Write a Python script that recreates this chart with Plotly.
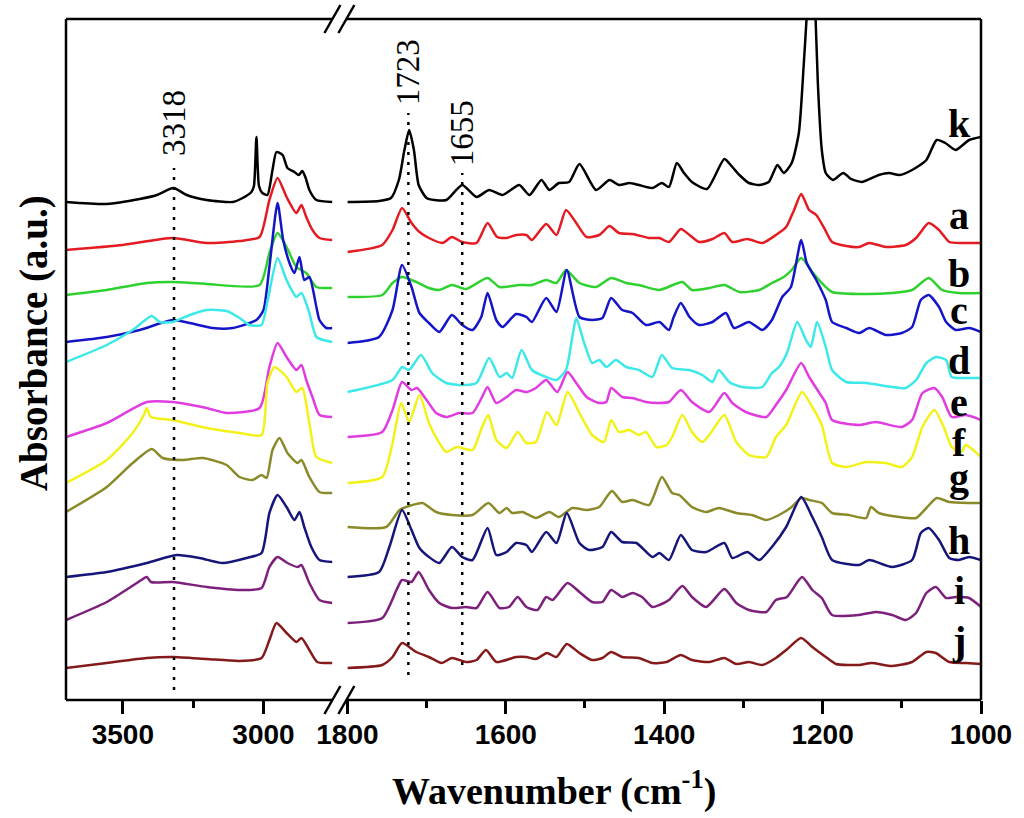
import plotly.graph_objects as go

# ---------------- data (wavenumber cm-1, absorbance a.u., offset stacked) ----------------
labels = ["k", "a", "b", "c", "d", "e", "f", "g", "h", "i", "j"]
colors = ["#000000", "#e31b23", "#2fd12f", "#1515c8", "#3de8e8", "#e03ce0",
          "#f2f21a", "#8a8a2a", "#16167a", "#7c207c", "#851a1a"]

# high-wavenumber region (3700-2755)
k_high = [(3702,4.98),(3557,4.96),(3440,5.01),(3379,5.05),(3320,5.12),(3273,5.05),(3202,5.00),(3110,4.98),
          (3074,5.02),(3043,5.08),(3034,5.14),(3025,5.63),(3016,5.14),(3004,5.07),(2986,5.05),(2968,5.30),
          (2954,5.48),(2932,5.45),(2915,5.32),(2890,5.28),(2875,5.25),(2862,5.29),(2850,5.22),(2837,5.10),
          (2812,5.00),(2755,4.98)]
a_high = [(3702,4.50),(3500,4.55),(3323,4.62),(3202,4.57),(3085,4.59),(3014,4.63),(2979,5.00),(2950,5.22),
          (2918,5.03),(2883,4.87),(2865,4.95),(2848,4.83),(2826,4.70),(2801,4.62),(2755,4.60)]
b_high = [(3702,4.05),(3557,4.10),(3415,4.17),(3323,4.18),(3202,4.16),(3014,4.15),(2979,4.47),(2950,4.67),
          (2918,4.53),(2883,4.33),(2848,4.27),(2812,4.13),(2755,4.12)]
c_high = [(3702,3.58),(3557,3.63),(3440,3.70),(3323,3.80),(3262,3.77),(3181,3.72),(3110,3.72),(3025,3.80),
          (3000,3.90),(2979,4.33),(2950,4.97),(2930,4.60),(2905,4.35),(2890,4.27),(2872,4.43),(2855,4.20),
          (2837,4.23),(2812,3.93),(2801,3.80),(2777,3.72),(2755,3.72)]
d_high = [(3702,3.38),(3557,3.55),(3465,3.70),(3397,3.84),(3369,3.78),(3323,3.78),(3262,3.85),(3202,3.90),
          (3131,3.89),(3085,3.82),(3050,3.75),(3007,3.75),(2985,4.00),(2950,4.42),(2918,4.20),(2883,4.03),
          (2865,4.07),(2837,3.87),(2812,3.63),(2755,3.58)]
e_high = [(3702,2.63),(3557,2.77),(3415,2.98),(3323,2.98),(3202,2.92),(3131,2.87),(3014,2.92),(2979,3.33),
          (2950,3.57),(2918,3.43),(2883,3.30),(2865,3.35),(2848,3.20),(2826,3.03),(2801,2.85),(2755,2.83)]
f_high = [(3702,2.17),(3557,2.40),(3465,2.67),(3425,2.85),(3415,2.92),(3400,2.83),(3323,2.80),(3202,2.72),
          (3085,2.67),(3007,2.65),(2986,3.17),(2961,3.33),(2918,3.23),(2883,3.08),(2862,3.12),(2837,2.77),
          (2812,2.43),(2755,2.37)]
g_high = [(3702,1.88),(3557,2.13),(3465,2.37),(3397,2.51),(3358,2.42),(3287,2.40),(3216,2.42),(3131,2.35),
          (3085,2.23),(3039,2.20),(3007,2.25),(2989,2.22),(2968,2.50),(2943,2.62),(2915,2.47),(2879,2.37),
          (2865,2.40),(2837,2.23),(2801,2.08),(2755,2.07)]
h_high = [(3702,1.23),(3557,1.28),(3415,1.37),(3309,1.45),(3227,1.42),(3145,1.37),(3060,1.42),(3007,1.47),
          (2979,1.87),(2950,2.05),(2918,1.93),(2890,1.80),(2872,1.88),(2855,1.73),(2830,1.53),(2801,1.40),
          (2755,1.38)]
i_high = [(3702,0.80),(3557,0.98),(3450,1.17),(3415,1.23),(3400,1.18),(3323,1.18),(3202,1.13),(3085,1.10),
          (3007,1.12),(2979,1.33),(2950,1.43),(2915,1.37),(2879,1.33),(2865,1.35),(2837,1.17),(2801,1.00),
          (2755,0.97)]
j_high = [(3702,0.32),(3557,0.37),(3415,0.42),(3323,0.43),(3202,0.41),(3085,0.39),(3007,0.42),(2979,0.60),
          (2954,0.77),(2918,0.67),(2883,0.58),(2865,0.62),(2837,0.50),(2809,0.38),(2755,0.37)]

# fingerprint region (1800-1000)
k_low = [(1800,4.98),(1760,4.99),(1745,5.02),(1735,5.20),(1728,5.50),(1722,5.70),(1716,5.50),(1710,5.15),
         (1700,5.02),(1690,5.00),(1675,5.00),(1655,5.15),(1637,5.03),(1621,5.10),(1604,5.05),(1583,5.15),
         (1570,5.05),(1555,5.20),(1545,5.10),(1533,5.17),(1520,5.18),(1507,5.36),(1486,5.10),(1469,5.20),
         (1457,5.15),(1444,5.17),(1432,5.15),(1415,5.12),(1403,5.17),(1394,5.13),(1384,5.37),(1375,5.27),
         (1365,5.18),(1346,5.11),(1324,5.41),(1314,5.33),(1305,5.25),(1293,5.17),(1280,5.15),(1268,5.18),
         (1257,5.35),(1249,5.27),(1239,5.37),(1230,5.67),(1224,6.33),(1220,6.85),(1215,7.70),(1209,6.85),
         (1206,6.17),(1201,5.50),(1196,5.27),(1187,5.20),(1174,5.27),(1164,5.21),(1150,5.18),(1129,5.25),
         (1116,5.27),(1103,5.25),(1087,5.30),(1069,5.40),(1056,5.60),(1045,5.57),(1032,5.50),(1015,5.60),
         (1000,5.63)]
a_low = [(1800,4.48),(1756,4.55),(1743,4.70),(1731,4.92),(1719,4.77),(1709,4.68),(1697,4.62),(1680,4.57),
         (1668,4.63),(1655,4.58),(1637,4.57),(1623,4.77),(1611,4.63),(1599,4.62),(1587,4.65),(1574,4.65),
         (1567,4.60),(1549,4.76),(1536,4.65),(1524,4.90),(1511,4.77),(1498,4.63),(1482,4.65),(1469,4.74),
         (1457,4.67),(1440,4.66),(1419,4.62),(1406,4.62),(1394,4.58),(1379,4.71),(1368,4.65),(1356,4.58),
         (1339,4.61),(1324,4.67),(1314,4.58),(1295,4.61),(1276,4.57),(1259,4.65),(1246,4.73),(1236,4.90),
         (1227,5.06),(1217,4.90),(1208,4.85),(1198,4.72),(1188,4.58),(1170,4.54),(1154,4.53),(1141,4.57),
         (1120,4.53),(1095,4.55),(1082,4.62),(1066,4.77),(1053,4.70),(1040,4.58),(1024,4.57),(1000,4.57)]
b_low = [(1800,4.03),(1756,4.05),(1743,4.17),(1731,4.23),(1713,4.18),(1697,4.12),(1684,4.10),(1668,4.15),
         (1650,4.11),(1623,4.22),(1608,4.13),(1583,4.15),(1567,4.15),(1549,4.20),(1536,4.17),(1524,4.30),
         (1507,4.17),(1486,4.13),(1467,4.22),(1448,4.17),(1432,4.15),(1406,4.10),(1377,4.18),(1365,4.10),
         (1343,4.12),(1324,4.15),(1305,4.08),(1280,4.10),(1264,4.17),(1249,4.23),(1239,4.30),(1227,4.42),
         (1213,4.28),(1201,4.17),(1188,4.08),(1154,4.06),(1112,4.07),(1087,4.10),(1066,4.22),(1049,4.10),
         (1028,4.07),(1000,4.07)]
c_low = [(1800,3.57),(1760,3.63),(1743,3.90),(1731,4.35),(1719,4.13),(1709,3.87),(1697,3.77),(1684,3.68),
         (1668,3.85),(1655,3.75),(1642,3.70),(1631,3.83),(1623,4.07),(1612,3.80),(1604,3.73),(1587,3.86),
         (1574,3.83),(1567,3.78),(1549,4.02),(1536,3.88),(1523,4.30),(1507,3.83),(1491,3.80),(1478,3.82),
         (1467,4.02),(1453,3.90),(1440,3.87),(1423,3.75),(1406,3.78),(1394,3.70),(1388,3.83),(1379,3.97),
         (1368,3.83),(1356,3.75),(1339,3.78),(1322,3.87),(1312,3.72),(1293,3.78),(1276,3.70),(1264,3.80),
         (1251,4.03),(1240,4.13),(1227,4.60),(1220,4.37),(1208,4.20),(1196,4.00),(1188,3.78),(1170,3.72),
         (1154,3.67),(1141,3.72),(1120,3.65),(1100,3.67),(1087,3.73),(1076,4.00),(1066,4.05),(1053,3.93),
         (1044,3.78),(1032,3.70),(1015,3.72),(1000,3.68)]
d_low = [(1800,3.08),(1743,3.20),(1731,3.33),(1722,3.30),(1707,3.45),(1693,3.27),(1675,3.17),(1655,3.15),
         (1637,3.17),(1621,3.42),(1608,3.23),(1599,3.27),(1592,3.22),(1580,3.50),(1567,3.30),(1549,3.23),
         (1536,3.20),(1524,3.30),(1516,3.63),(1511,3.82),(1501,3.57),(1491,3.37),(1482,3.40),(1473,3.33),
         (1461,3.40),(1448,3.33),(1432,3.30),(1415,3.23),(1403,3.45),(1390,3.32),(1368,3.30),(1352,3.25),
         (1339,3.18),(1331,3.30),(1318,3.18),(1302,3.13),(1276,3.13),(1264,3.27),(1255,3.33),(1245,3.47),
         (1232,3.78),(1221,3.60),(1215,3.53),(1207,3.78),(1196,3.53),(1188,3.30),(1170,3.18),(1145,3.17),
         (1112,3.13),(1095,3.12),(1082,3.20),(1069,3.37),(1057,3.43),(1044,3.40),(1037,3.23),(1019,3.22),
         (1000,3.22)]
e_low = [(1800,2.63),(1756,2.68),(1743,2.90),(1731,3.18),(1719,3.10),(1712,3.12),(1700,3.00),(1688,2.87),
         (1675,2.83),(1659,2.87),(1642,2.87),(1630,3.03),(1623,3.13),(1612,2.97),(1599,3.03),(1587,3.10),
         (1574,3.08),(1562,3.12),(1549,3.20),(1535,3.08),(1522,3.28),(1511,3.17),(1498,3.03),(1482,2.97),
         (1473,2.98),(1467,3.12),(1453,3.03),(1440,3.02),(1423,2.98),(1406,2.97),(1394,2.98),(1379,3.10),
         (1365,2.98),(1343,2.88),(1324,3.07),(1314,2.97),(1297,2.88),(1271,2.83),(1259,2.95),(1246,3.10),
         (1227,3.37),(1217,3.23),(1204,3.07),(1196,2.97),(1188,2.80),(1154,2.75),(1133,2.78),(1100,2.73),
         (1087,2.80),(1074,3.07),(1059,3.12),(1049,3.03),(1037,2.83),(1019,2.85),(1000,2.80)]
f_low = [(1800,2.17),(1756,2.23),(1743,2.57),(1732,2.97),(1722,2.78),(1709,3.05),(1697,2.77),(1684,2.57),
         (1675,2.48),(1662,2.53),(1642,2.50),(1630,2.73),(1622,2.85),(1612,2.60),(1599,2.52),(1585,2.68),
         (1574,2.57),(1562,2.58),(1548,2.88),(1536,2.75),(1522,3.08),(1507,2.87),(1491,2.65),(1476,2.58),
         (1467,2.80),(1457,2.68),(1444,2.70),(1432,2.65),(1423,2.68),(1410,2.53),(1397,2.55),(1390,2.63),
         (1377,2.85),(1365,2.68),(1352,2.58),(1343,2.65),(1324,2.85),(1309,2.58),(1293,2.45),(1271,2.43),
         (1259,2.63),(1246,2.75),(1226,3.08),(1213,2.93),(1201,2.75),(1188,2.37),(1170,2.33),(1145,2.38),
         (1120,2.37),(1100,2.33),(1087,2.43),(1074,2.73),(1059,2.90),(1047,2.73),(1037,2.53),(1025,2.48),
         (1019,2.55),(1010,2.50),(1000,2.43)]
g_low = [(1800,1.73),(1751,1.73),(1734,1.90),(1718,1.95),(1705,1.97),(1688,1.88),(1668,1.85),(1642,1.85),
         (1622,1.97),(1608,1.87),(1599,1.92),(1592,1.87),(1579,1.88),(1562,1.82),(1545,1.88),(1533,1.83),
         (1516,1.92),(1498,1.90),(1482,1.93),(1466,2.09),(1453,1.98),(1440,2.00),(1419,1.95),(1403,2.23),
         (1390,2.07),(1381,2.05),(1365,1.93),(1347,1.88),(1331,1.92),(1309,1.87),(1289,1.85),(1271,1.80),
         (1255,1.85),(1239,1.93),(1227,2.02),(1217,2.00),(1201,1.97),(1188,1.87),(1167,1.85),(1145,1.82),
         (1139,1.93),(1129,1.87),(1103,1.83),(1082,1.82),(1069,1.92),(1056,2.02),(1040,1.98),(1015,1.97),
         (1000,1.97)]
h_low = [(1800,1.23),(1760,1.28),(1747,1.53),(1731,1.90),(1719,1.70),(1709,1.52),(1697,1.43),(1684,1.37),
         (1668,1.53),(1655,1.43),(1642,1.40),(1623,1.72),(1612,1.45),(1599,1.48),(1587,1.57),(1574,1.55),
         (1567,1.48),(1549,1.68),(1536,1.57),(1523,1.87),(1507,1.57),(1495,1.50),(1478,1.53),(1467,1.68),
         (1453,1.58),(1435,1.57),(1415,1.43),(1406,1.47),(1394,1.40),(1379,1.65),(1365,1.50),(1347,1.48),
         (1324,1.57),(1314,1.42),(1295,1.48),(1280,1.40),(1264,1.53),(1246,1.73),(1227,2.03),(1213,1.83),
         (1201,1.63),(1188,1.40),(1154,1.35),(1141,1.40),(1112,1.33),(1087,1.40),(1076,1.67),(1066,1.72),
         (1053,1.60),(1040,1.42),(1028,1.40),(1015,1.43),(1000,1.40)]
i_low = [(1800,0.77),(1756,0.82),(1738,1.10),(1731,1.20),(1719,1.18),(1710,1.28),(1697,1.10),(1684,0.97),
         (1668,0.92),(1650,0.93),(1637,0.92),(1623,1.08),(1608,0.92),(1596,0.93),(1585,1.03),(1574,0.93),
         (1560,0.90),(1549,1.03),(1541,1.00),(1522,1.17),(1507,1.08),(1491,0.98),(1478,0.98),(1467,1.10),
         (1453,1.03),(1440,1.07),(1428,1.03),(1415,0.93),(1406,0.95),(1394,1.00),(1377,1.14),(1365,1.03),
         (1347,0.93),(1324,1.11),(1309,0.97),(1293,0.90),(1271,0.88),(1259,1.00),(1245,1.03),(1226,1.23),
         (1213,1.10),(1201,1.02),(1188,0.85),(1154,0.85),(1133,0.88),(1112,0.85),(1095,0.80),(1082,0.87),
         (1069,1.07),(1057,1.13),(1044,1.02),(1032,1.03),(1015,1.02),(1000,0.93)]
j_low = [(1800,0.32),(1756,0.35),(1743,0.43),(1731,0.57),(1713,0.48),(1697,0.43),(1681,0.37),(1668,0.42),
         (1650,0.38),(1637,0.40),(1625,0.50),(1612,0.38),(1587,0.43),(1574,0.43),(1562,0.41),(1548,0.47),
         (1536,0.43),(1523,0.56),(1507,0.47),(1491,0.40),(1478,0.42),(1467,0.48),(1453,0.43),(1432,0.42),
         (1415,0.37),(1397,0.38),(1379,0.45),(1365,0.40),(1343,0.38),(1324,0.42),(1309,0.36),(1293,0.38),
         (1276,0.35),(1259,0.42),(1246,0.50),(1227,0.62),(1213,0.53),(1196,0.43),(1183,0.36),(1154,0.35),
         (1138,0.37),(1112,0.34),(1087,0.38),(1069,0.48),(1057,0.47),(1040,0.38),(1019,0.37),(1000,0.36)]

high_sets = [k_high, a_high, b_high, c_high, d_high, e_high, f_high, g_high, h_high, i_high, j_high]
low_sets = [k_low, a_low, b_low, c_low, d_low, e_low, f_low, g_low, h_low, i_low, j_low]

# peak markers
peak_positions = [3318, 1723, 1655]
peak_labels = ["3318", "1723", "1655"]

# axis ticks
high_ticks = [3500, 3000]
high_minor = [3250]
low_ticks = [1800, 1600, 1400, 1200, 1000]
low_minor = [1700, 1500, 1300, 1100]

# curve label heights (a.u.)
label_y = [5.77, 4.85, 4.27, 3.90, 3.40, 2.98, 2.58, 2.23, 1.60, 1.10, 0.60]

# ---------------- figure ----------------
W, H = 1024, 818
PL, PR, PT, PB = 66, 983, 19, 700          # plot area in pixels
L, T, R, B = PL, PT, W - PR, H - PB
PW, PH = PR - PL, PB - PT


def fx(px):
    return (px - PL) / PW


def fy(py):
    return (PB - py) / PH


fig = go.Figure()
for name, col, hi, lo in zip(labels, colors, high_sets, low_sets):
    fig.add_trace(go.Scatter(x=[p[0] for p in hi], y=[p[1] for p in hi], xaxis="x", yaxis="y",
                             mode="lines", name=name, showlegend=False,
                             line=dict(color=col, width=2.5, shape="spline", smoothing=0.6)))
    fig.add_trace(go.Scatter(x=[p[0] for p in lo], y=[p[1] for p in lo], xaxis="x2", yaxis="y",
                             mode="lines", name=name, showlegend=False,
                             line=dict(color=col, width=2.5, shape="spline", smoothing=0.6)))

tickfont = dict(family="Liberation Sans, Arial", size=28, color="black", weight="bold")
common = dict(ticks="outside", ticklen=13, tickwidth=2.5, tickcolor="black", showgrid=False,
              zeroline=False, showline=False, tickfont=tickfont, anchor="y", ticklabelstandoff=-4)

fig.update_layout(
    width=W, height=H, margin=dict(l=L, r=R, t=T, b=B),
    plot_bgcolor="white", paper_bgcolor="white",
    xaxis=dict(domain=[0, fx(333)], range=[3702, 2755], tickvals=high_ticks,
               minor=dict(tickvals=high_minor, ticks="outside", ticklen=7, tickwidth=2.5, tickcolor="black"),
               **common),
    xaxis2=dict(domain=[fx(348), 1], range=[1800, 1000], tickvals=low_ticks,
                minor=dict(tickvals=low_minor, ticks="outside", ticklen=7, tickwidth=2.5, tickcolor="black"),
                **common),
    yaxis=dict(domain=[0, 1], range=[0, (700 - 19) / 100], visible=False, anchor="x"),
)

shapes = []
blk = dict(color="black", width=2.5)
# frame
shapes.append(dict(type="line", xref="paper", yref="paper", x0=0, x1=0, y0=0, y1=1, line=blk))
shapes.append(dict(type="line", xref="paper", yref="paper", x0=1, x1=1, y0=0, y1=1, line=blk))
for yy in (0, 1):
    shapes.append(dict(type="line", xref="paper", yref="paper", x0=0, x1=fx(333), y0=yy, y1=yy, line=blk))
    shapes.append(dict(type="line", xref="paper", yref="paper", x0=fx(347), x1=1, y0=yy, y1=yy, line=blk))
# axis break marks
for pyc in (700, 19):
    for cx in (333, 347):
        shapes.append(dict(type="line", xref="paper", yref="paper",
                           x0=fx(cx - 8), y0=fy(pyc + 14), x1=fx(cx + 8), y1=fy(pyc - 14), line=blk))
# dotted peak lines
dot = dict(color="black", width=2.5, dash="3px,7px")
shapes.append(dict(type="line", xref="x", yref="y", x0=peak_positions[0], x1=peak_positions[0],
                   y0=0.10, y1=5.32, line=dot))
shapes.append(dict(type="line", xref="x2", yref="y", x0=peak_positions[1], x1=peak_positions[1],
                   y0=0.25, y1=5.87, line=dot))
shapes.append(dict(type="line", xref="x2", yref="y", x0=peak_positions[2], x1=peak_positions[2],
                   y0=0.35, y1=5.27, line=dot))

annotations = []
serif = "Liberation Serif, Times New Roman"
pk_y = [5.77, 6.28, 5.67]
pk_ref = ["x", "x2", "x2"]
for pos, txt, yy, ref in zip(peak_positions, peak_labels, pk_y, pk_ref):
    annotations.append(dict(x=pos, y=yy, xref=ref, yref="y", text=txt, showarrow=False, textangle=-90,
                            font=dict(family=serif, size=33, color="black"),
                            xanchor="center", yanchor="middle"))
for name, yy in zip(labels, label_y):
    annotations.append(dict(x=fx(961), y=yy, xref="paper", yref="y", text=name, showarrow=False,
                            font=dict(family=serif, size=40, color="black", weight="bold"),
                            xanchor="center", yanchor="middle"))
annotations.append(dict(x=fx(555), y=fy(788), xref="paper", yref="paper",
                        text="Wavenumber (cm<sup>-1</sup>)", showarrow=False,
                        font=dict(family=serif, size=38, color="black", weight="bold"),
                        xanchor="center", yanchor="middle"))
annotations.append(dict(x=fx(34), y=fy(343), xref="paper", yref="paper",
                        text="Absorbance (a.u.)", showarrow=False, textangle=-90,
                        font=dict(family=serif, size=39, color="black", weight="bold"),
                        xanchor="center", yanchor="middle"))

fig.update_layout(shapes=shapes, annotations=annotations)
fig.write_html("out.html", config={"displayModeBar": False},
               post_script="document.body.style.margin='0px';document.body.style.padding='0px';")
